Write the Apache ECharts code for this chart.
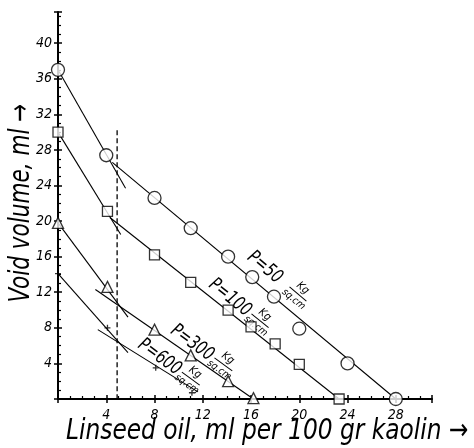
<!DOCTYPE html>
<html>
<head>
<meta charset="utf-8">
<script src="https://cdn.jsdelivr.net/npm/echarts@6/dist/echarts.min.js"></script>
<style>
html,body{margin:0;padding:0;background:#fff}
#chart{width:474px;height:448px}
</style>
</head>
<body>
<div id="chart"></div>
<script>
// measured points, [oil ml, void volume ml]
var p50Pts = [[0, 37], [4, 27.4], [8, 22.6], [11, 19.2], [14.1, 16], [16.1, 13.7], [17.9, 11.5], [20, 7.9], [24, 4], [28, 0]];
var p100Pts = [[0, 30], [4.1, 21.1], [8, 16.2], [11, 13.1], [14.1, 10], [16, 8.1], [18, 6.2], [20, 3.9], [23.3, 0]];
var p300Pts = [[0, 19.8], [4.1, 12.6], [8, 7.8], [11, 4.9], [14.1, 2], [16.2, 0.1]];
var p600Pts = [[0, 14.1], [4.1, 8], [8.1, 3.5], [11.1, 0.7]];

// straight lines drawn in the original (steep start + main run)
var p50Steep = [[0, 37], [5.6, 23.7]];
var p50Main = [[4.5, 26.6], [28, 0]];
var p100Steep = [[0, 30], [5.2, 18.5]];
var p100Main = [[4.3, 20.4], [23.3, 0]];
var p300Steep = [[0, 19.8], [5.8, 9.2]];
var p300Main = [[3.1, 12.3], [16.2, 0]];
var p600Steep = [[0, 14.1], [5.8, 5.2]];
var p600Main = [[3.3, 7.8], [11.6, 0.8]];
var dashLine = [[4.9, 30.2], [4.9, 0]];

var xTicks = [4, 8, 12, 16, 20, 24, 28];
var yTicks = [4, 8, 12, 16, 20, 24, 28, 32, 36, 40];

// label anchors (data coords) and names
var curveLabels = [
	{ name: 'P=50', at: [15.9, 16.2], angle: 40 },
	{ name: 'P=100', at: [12.7, 13.1], angle: 39 },
	{ name: 'P=300', at: [9.5, 7.9], angle: 36 },
	{ name: 'P=600', at: [6.8, 6.3], angle: 36 }
];

var font = "'Liberation Sans Narrow', 'DejaVu Sans Condensed', sans-serif";
var chart = echarts.init(document.getElementById('chart'));

function lineSeries(data, dashed) {
	return {
		type: 'line',
		data: data,
		symbol: 'none',
		silent: true,
		animation: false,
		lineStyle: { color: '#000', width: dashed ? 1.3 : 1.1, type: dashed ? [5, 3] : 'solid' },
		z: 2
	};
}

function pointSeries(data, symbol, size) {
	return {
		type: 'scatter',
		data: data,
		symbol: symbol,
		symbolSize: size,
		animation: false,
		itemStyle: { color: '#fff', borderColor: '#000', borderWidth: 1.3 },
		z: 3
	};
}

function tickFmt(list) {
	return function(v) { return list.indexOf(v) >= 0 ? String(v) : ''; };
}

var axisBase = {
	axisLine: { lineStyle: { color: '#000', width: 2 } },
	splitLine: { show: false }
};

var option = {
	animation: false,
	grid: { left: 58, right: 42, top: 12, bottom: 49 },
	xAxis: [
		Object.assign({
			type: 'value', min: 0, max: 31, interval: 4, position: 'bottom',
			axisTick: { inside: true, length: 4, lineStyle: { color: '#000', width: 1.5 } },
			minorTick: { show: true, splitNumber: 4, length: 3, lineStyle: { color: '#000', width: 1.2 } },
			axisLabel: { margin: 9, color: '#000', fontSize: 14, fontStyle: 'italic', fontFamily: font, formatter: tickFmt(xTicks) }
		}, axisBase),
		{
			type: 'value', min: 0, max: 31, interval: 4, position: 'bottom',
			axisLine: { show: false }, splitLine: { show: false }, axisLabel: { show: false },
			axisTick: { inside: false, length: 4, lineStyle: { color: '#000', width: 1.5 } }
		}
	],
	yAxis: [
		Object.assign({
			type: 'value', min: 0, max: 43.5, interval: 4, position: 'left',
			axisTick: { inside: true, length: 4, lineStyle: { color: '#000', width: 1.5 } },
			minorTick: { show: true, splitNumber: 4, length: 3, lineStyle: { color: '#000', width: 1.2 } },
			axisLabel: { margin: 6, color: '#000', fontSize: 14, fontStyle: 'italic', fontFamily: font, formatter: tickFmt(yTicks) }
		}, axisBase),
		{
			type: 'value', min: 0, max: 43.5, interval: 4, position: 'left',
			axisLine: { show: false }, splitLine: { show: false }, axisLabel: { show: false },
			axisTick: { inside: false, length: 4, lineStyle: { color: '#000', width: 1.5 } }
		}
	],
	series: [
		lineSeries(p50Steep), lineSeries(p50Main),
		lineSeries(p100Steep), lineSeries(p100Main),
		lineSeries(p300Steep), lineSeries(p300Main),
		lineSeries(p600Steep), lineSeries(p600Main),
		lineSeries(dashLine, true),
		pointSeries(p50Pts, 'circle', 13),
		pointSeries(p100Pts, 'rect', 10),
		pointSeries(p300Pts, 'triangle', 11),
		pointSeries(p600Pts, 'path://M0,5L10,5M5,0L5,10', 6)
	]
};
chart.setOption(option);

// rotated curve labels with a Kg / sq.cm fraction, plus axis titles
var graphics = [];
curveLabels.forEach(function(c) {
	var pos = chart.convertToPixel({ xAxisIndex: 0, yAxisIndex: 0 }, c.at);
	graphics.push({
		type: 'group',
		x: pos[0], y: pos[1],
		rotation: -c.angle * Math.PI / 180,
		children: [
			{ type: 'text', x: 0, y: 0, scaleY: 1.2, style: { text: c.name, font: 'italic 16px ' + font, fill: '#000', verticalAlign: 'middle', textAlign: 'left' } },
			{ type: 'text', x: 62, y: -3, style: { text: 'Kg', font: 'italic 11px ' + font, fill: '#000', verticalAlign: 'bottom', textAlign: 'center' } },
			{ type: 'line', shape: { x1: 51, y1: -1, x2: 73, y2: -1 }, style: { stroke: '#000', lineWidth: 1 } },
			{ type: 'text', x: 62, y: 1, style: { text: 'sq.cm', font: 'italic 10px ' + font, fill: '#000', verticalAlign: 'top', textAlign: 'center' } }
		]
	});
});
graphics.push({
	type: 'text', x: 66, y: 432, scaleX: 1.08, scaleY: 1.2,
	style: { text: 'Linseed oil, ml per 100 gr kaolin \u2192', font: 'italic 24px ' + font, fill: '#000', verticalAlign: 'middle', textAlign: 'left' }
});
graphics.push({
	type: 'text', x: 22, y: 203, rotation: Math.PI / 2, scaleX: 1.0, scaleY: 1.2,
	style: { text: 'Void volume, ml \u2192', font: 'italic 24px ' + font, fill: '#000', verticalAlign: 'middle', textAlign: 'center' }
});
chart.setOption({ graphic: graphics });

window.addEventListener('resize', function() {
	chart.resize();
});
</script>
</body>
</html>
